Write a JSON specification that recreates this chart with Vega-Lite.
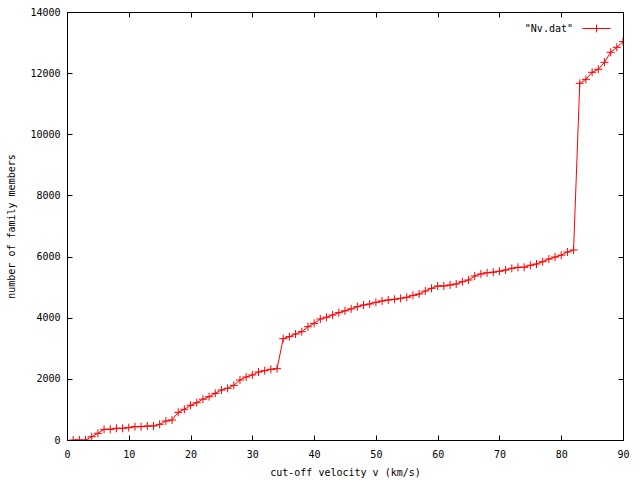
{
  "$schema": "https://vega.github.io/schema/vega-lite/v6.json",
  "width": 556,
  "height": 428,
  "autosize": "none",
  "padding": {"left": 67, "top": 12, "right": 17, "bottom": 40},
  "background": "white",
  "config": {
    "view": {"stroke": "black", "strokeWidth": 1},
    "font": "DejaVu Sans Mono",
    "axis": {
      "labelFont": "DejaVu Sans Mono",
      "labelFontSize": 10,
      "labelColor": "black",
      "titleFont": "DejaVu Sans Mono",
      "titleFontSize": 10,
      "titleFontWeight": "normal",
      "titleColor": "black",
      "grid": false,
      "domainColor": "black",
      "tickColor": "black",
      "tickSize": -5,
      "labelFlush": false,
      "labelOverlap": false
    },
    "legend": {
      "labelFont": "DejaVu Sans Mono",
      "labelFontSize": 10,
      "labelColor": "black"
    }
  },
  "data": {
    "values": [
      {"v": 1, "n": 0}, {"v": 2, "n": 0}, {"v": 3, "n": 0}, {"v": 4, "n": 108},
      {"v": 5, "n": 218}, {"v": 6, "n": 349}, {"v": 7, "n": 350}, {"v": 8, "n": 382},
      {"v": 9, "n": 382}, {"v": 10, "n": 404}, {"v": 11, "n": 436}, {"v": 12, "n": 436},
      {"v": 13, "n": 458}, {"v": 14, "n": 458}, {"v": 15, "n": 513}, {"v": 16, "n": 621},
      {"v": 17, "n": 654}, {"v": 18, "n": 905}, {"v": 19, "n": 1003}, {"v": 20, "n": 1134},
      {"v": 21, "n": 1221}, {"v": 22, "n": 1335}, {"v": 23, "n": 1417}, {"v": 24, "n": 1526},
      {"v": 25, "n": 1635}, {"v": 26, "n": 1690}, {"v": 27, "n": 1788}, {"v": 28, "n": 1963},
      {"v": 29, "n": 2061}, {"v": 30, "n": 2126}, {"v": 31, "n": 2224}, {"v": 32, "n": 2268},
      {"v": 33, "n": 2312}, {"v": 34, "n": 2333}, {"v": 35, "n": 3314}, {"v": 36, "n": 3380},
      {"v": 37, "n": 3467}, {"v": 38, "n": 3543}, {"v": 39, "n": 3706}, {"v": 40, "n": 3815},
      {"v": 41, "n": 3958}, {"v": 42, "n": 4013}, {"v": 43, "n": 4089}, {"v": 44, "n": 4165},
      {"v": 45, "n": 4225}, {"v": 46, "n": 4290}, {"v": 47, "n": 4361}, {"v": 48, "n": 4416},
      {"v": 49, "n": 4449}, {"v": 50, "n": 4503}, {"v": 51, "n": 4547}, {"v": 52, "n": 4580},
      {"v": 53, "n": 4601}, {"v": 54, "n": 4634}, {"v": 55, "n": 4667}, {"v": 56, "n": 4732},
      {"v": 57, "n": 4776}, {"v": 58, "n": 4874}, {"v": 59, "n": 4961}, {"v": 60, "n": 5037},
      {"v": 61, "n": 5037}, {"v": 62, "n": 5070}, {"v": 63, "n": 5103}, {"v": 64, "n": 5178},
      {"v": 65, "n": 5234}, {"v": 66, "n": 5364}, {"v": 67, "n": 5430}, {"v": 68, "n": 5470},
      {"v": 69, "n": 5490}, {"v": 70, "n": 5520}, {"v": 71, "n": 5561}, {"v": 72, "n": 5615},
      {"v": 73, "n": 5648}, {"v": 74, "n": 5650}, {"v": 75, "n": 5714}, {"v": 76, "n": 5757},
      {"v": 77, "n": 5833}, {"v": 78, "n": 5920}, {"v": 79, "n": 5985}, {"v": 80, "n": 6045},
      {"v": 81, "n": 6150}, {"v": 82, "n": 6215}, {"v": 83, "n": 11667}, {"v": 84, "n": 11797},
      {"v": 85, "n": 12027}, {"v": 86, "n": 12125}, {"v": 87, "n": 12354}, {"v": 88, "n": 12682},
      {"v": 89, "n": 12845}, {"v": 90, "n": 13030}
    ]
  },
  "layer": [
    {
      "mark": {"type": "line", "strokeWidth": 1, "clip": true},
      "encoding": {
        "x": {
          "field": "v", "type": "quantitative",
          "scale": {"domain": [0, 90], "nice": false, "zero": false},
          "axis": {"orient": "bottom", "values": [0,10,20,30,40,50,60,70,80,90], "format": "d", "title": "cut-off velocity v (km/s)", "labelPadding": 14, "titlePadding": 8}
        },
        "y": {
          "field": "n", "type": "quantitative",
          "scale": {"domain": [0, 14000], "nice": false},
          "axis": {"orient": "left", "values": [0,2000,4000,6000,8000,10000,12000,14000], "format": "d", "title": "number of family members", "labelPadding": 12, "titlePadding": 13}
        },
        "color": {
          "datum": "\"Nv.dat\"",
          "scale": {"range": ["#ff0000"]},
          "legend": {
            "title": null,
            "orient": "none",
            "legendX": 515,
            "legendY": 2,
            "padding": 0,
            "symbolType": "M-1,0L1,0M0,-0.28L0,0.28",
            "symbolSize": 784,
            "symbolStrokeWidth": 1,
            "symbolFillColor": "transparent",
            "symbolStrokeColor": "#ff0000",
            "labelAlign": "right",
            "labelOffset": -38
          }
        }
      }
    },
    {
      "mark": {"type": "point", "shape": "M-1,0L1,0M0,-1L0,1", "size": 64, "filled": false, "color": "#ff0000", "strokeWidth": 1, "opacity": 1, "clip": true},
      "encoding": {
        "x": {
          "field": "v", "type": "quantitative",
          "axis": {"orient": "top", "values": [0,10,20,30,40,50,60,70,80,90], "labels": false, "title": null, "domain": false}
        },
        "y": {
          "field": "n", "type": "quantitative",
          "axis": {"orient": "right", "values": [0,2000,4000,6000,8000,10000,12000,14000], "labels": false, "title": null, "domain": false}
        }
      }
    }
  ]
}
